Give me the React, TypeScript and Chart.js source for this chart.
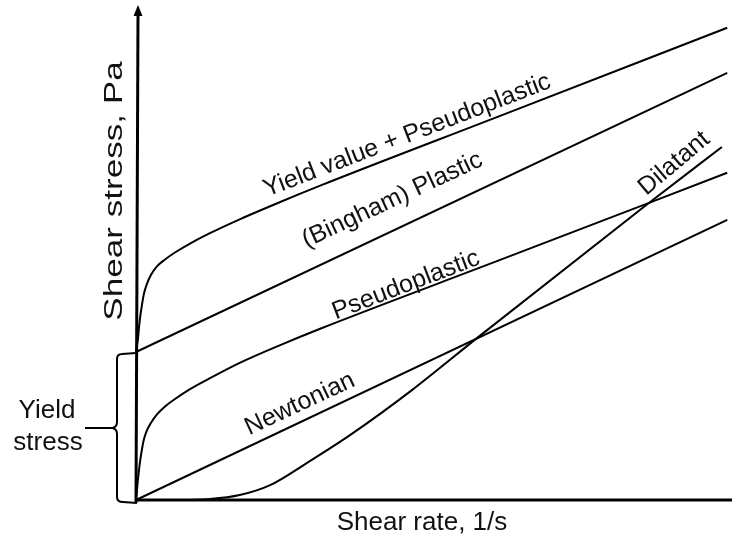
import React, { useEffect, useRef } from "react";
import { Chart, registerables } from "chart.js";

Chart.register(...registerables);

// Shear rate (x) and shear stress (y), arbitrary units 0-100
const newtonianX = [0, 99.2];
const newtonianY = [0, 56.6];

const binghamX = [0, 99.2];
const binghamY = [29.9, 86.3];

const yieldPseudoX = [0, 0.34, 0.5, 0.67, 1.01, 1.34, 1.85, 2.52, 3.52, 4.87, 6.54, 9.06, 12.4, 17.4, 24.2, 30.9, 61.1, 99.2];
const yieldPseudoY = [29.9, 32.7, 34.8, 36.7, 39.5, 41.7, 43.7, 45.5, 47.2, 48.6, 50.0, 51.8, 53.9, 56.7, 60.2, 63.5, 77.6, 95.4];

const pseudoX = [0, 0.17, 0.34, 0.5, 0.67, 1.01, 1.34, 1.85, 2.52, 3.52, 4.87, 6.54, 9.06, 12.4, 17.4, 24.2, 30.9, 61.1, 99.2];
const pseudoY = [0, 2.2, 4.3, 6.0, 7.7, 10.3, 12.3, 14.1, 15.6, 17.3, 18.9, 20.4, 22.4, 24.6, 27.7, 31.3, 34.6, 48.5, 66.1];

const dilatantX = [0, 7.4, 12.4, 17.4, 22.5, 28.7, 35.9, 46.3, 57.2, 85.4, 98.3];
const dilatantY = [0, 0, 0.2, 1.0, 3.0, 7.5, 13.1, 22.2, 32.7, 59.4, 71.3];

const yieldStress = 29.9;

const xTitle = "Shear rate, 1/s";
const yTitle = "Shear stress, Pa";
const yieldLabel = ["Yield", "stress"];

// curve labels: text, anchor (data units), rotation (deg)
const curveLabels = [
  { text: "Yield value + Pseudoplastic", x: 45.5, y: 73.6, rot: -21 },
  { text: "(Bingham) Plastic", x: 43.0, y: 60.6, rot: -25 },
  { text: "Pseudoplastic", x: 45.3, y: 43.4, rot: -21 },
  { text: "Newtonian", x: 27.5, y: 19.4, rot: -25 },
  { text: "Dilatant", x: 90.3, y: 68.0, rot: -40 },
];

const toPts = (xs: number[], ys: number[]) => xs.map((x, i) => ({ x, y: ys[i] }));

const FONT = '"Liberation Sans", Arial, sans-serif';

const decorPlugin = {
  id: "decor",
  afterDatasetsDraw(chart: any) {
    const { ctx, scales } = chart;
    const xs = scales.x;
    const ys = scales.y;
    const x0 = xs.getPixelForValue(0);
    const y0 = ys.getPixelForValue(0);
    const top = chart.chartArea.top;
    const right = chart.width;
    ctx.save();
    ctx.strokeStyle = "#000";
    ctx.fillStyle = "#000";
    ctx.lineCap = "butt";
    // x axis
    ctx.lineWidth = 3;
    ctx.beginPath();
    ctx.moveTo(x0, y0);
    ctx.lineTo(right, y0);
    ctx.stroke();
    // y axis
    ctx.beginPath();
    ctx.moveTo(x0, y0 + 3);
    ctx.lineTo(x0 + 2, top + 8);
    ctx.stroke();
    // arrow head
    ctx.beginPath();
    ctx.moveTo(x0 + 2, top);
    ctx.lineTo(x0 + 2 - 4.5, top + 11);
    ctx.lineTo(x0 + 2 + 4.5, top + 11);
    ctx.closePath();
    ctx.fill();

    // yield stress brace
    const yt = ys.getPixelForValue(yieldStress);
    const bx = x0 - 19;
    const mid = (yt + y0) / 2 + 2;
    ctx.lineWidth = 2;
    ctx.beginPath();
    ctx.moveTo(x0, yt + 1);
    ctx.lineTo(bx + 5, yt + 2);
    ctx.quadraticCurveTo(bx, yt + 2, bx, yt + 7);
    ctx.lineTo(bx, mid - 6);
    ctx.quadraticCurveTo(bx, mid, bx - 6, mid);
    ctx.lineTo(bx - 32, mid);
    ctx.moveTo(bx - 6, mid);
    ctx.quadraticCurveTo(bx, mid, bx, mid + 6);
    ctx.lineTo(bx, y0 - 3);
    ctx.quadraticCurveTo(bx, y0 + 2, bx + 6, y0 + 2);
    ctx.lineTo(x0 + 1, y0 + 3);
    ctx.stroke();

    // texts
    ctx.fillStyle = "#111";
    ctx.textAlign = "center";
    ctx.textBaseline = "middle";
    ctx.font = `26px ${FONT}`;
    ctx.fillText(xTitle, 422, y0 + 23);
    ctx.fillText(yieldLabel[0], 47, mid - 17);
    ctx.fillText(yieldLabel[1], 48, mid + 15);
    ctx.save();
    ctx.translate(x0 - 21, 191);
    ctx.rotate(-Math.PI / 2);
    ctx.scale(1.35, 1);
    ctx.fillText(yTitle, 0, 0);
    ctx.restore();

    ctx.font = `25px ${FONT}`;
    for (const l of curveLabels) {
      ctx.save();
      ctx.translate(xs.getPixelForValue(l.x), ys.getPixelForValue(l.y));
      ctx.rotate((l.rot * Math.PI) / 180);
      ctx.fillText(l.text, 0, 0);
      ctx.restore();
    }
    ctx.restore();
  },
};

export default function App() {
  const ref = useRef<HTMLCanvasElement | null>(null);
  useEffect(() => {
    if (!ref.current) return;
    const mk = (label: string, xs: number[], ys: number[], cubic: boolean) => ({
      label,
      data: toPts(xs, ys),
      borderColor: "#000",
      borderWidth: 2,
      pointRadius: 0,
      fill: false,
      clip: false as any,
      tension: 0,
      cubicInterpolationMode: cubic ? ("monotone" as const) : ("default" as const),
    });
    const chart = new Chart(ref.current, {
      type: "line",
      data: {
        datasets: [
          mk("Newtonian", newtonianX, newtonianY, false),
          mk("Bingham Plastic", binghamX, binghamY, false),
          mk("Yield value + Pseudoplastic", yieldPseudoX, yieldPseudoY, true),
          mk("Pseudoplastic", pseudoX, pseudoY, true),
          mk("Dilatant", dilatantX, dilatantY, true),
        ],
      },
      options: {
        animation: false,
        responsive: false,
        maintainAspectRatio: false,
        layout: { padding: { left: 136, right: 0, top: 5, bottom: 39 } },
        plugins: { legend: { display: false }, tooltip: { enabled: false } },
        scales: {
          x: { type: "linear", min: 0, max: 100, display: false },
          y: { type: "linear", min: 0, max: 100, display: false },
        },
      },
      plugins: [decorPlugin],
    });
    return () => chart.destroy();
  }, []);
  return (
    <div style={{ position: "absolute", left: 0, top: 0, width: 732, height: 539, background: "#fff" }}>
      <canvas ref={ref} width={732} height={539} style={{ width: 732, height: 539 }} />
    </div>
  );
}
